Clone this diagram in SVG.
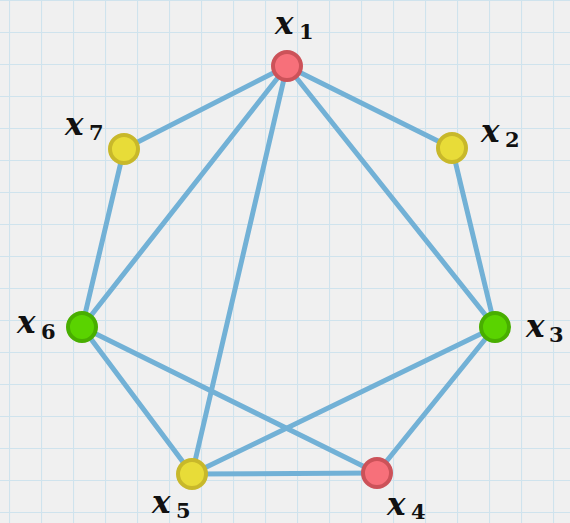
<svg xmlns="http://www.w3.org/2000/svg" width="570" height="523" viewBox="0 0 570 523">
<defs>
<pattern id="grid" x="9" y="0" width="32" height="32" patternUnits="userSpaceOnUse">
<path d="M0 0V32M0 0H32" fill="none" stroke="#cfe3ed" stroke-width="2.2"/>
</pattern>
<style>
.e{stroke:#72b1d6;stroke-width:5;stroke-linecap:round;fill:none}
.n{stroke-width:4}
.red{fill:#f7707a;stroke:#cc5259}
.yel{fill:#e8dc38;stroke:#c8b82a}
.grn{fill:#5ad300;stroke:#48ae00}
.v{font-family:"DejaVu Serif",serif;font-style:italic;font-weight:bold;font-size:31px;fill:#111}
.s{font-family:"DejaVu Serif",serif;font-weight:bold;font-size:21px;fill:#111}
</style>
</defs>
<rect width="570" height="523" fill="#f0f0f0"/>
<rect width="570" height="523" fill="url(#grid)"/>
<g id="connectors">
<line class="e" x1="287" y1="66" x2="124" y2="149"/>
<line class="e" x1="287" y1="66" x2="452" y2="148"/>
<line class="e" x1="287" y1="66" x2="495" y2="327"/>
<line class="e" x1="287" y1="66" x2="82" y2="327"/>
<line class="e" x1="287" y1="66" x2="192" y2="474"/>
<line class="e" x1="124" y1="149" x2="82" y2="327"/>
<line class="e" x1="452" y1="148" x2="495" y2="327"/>
<line class="e" x1="82" y1="327" x2="192" y2="474"/>
<line class="e" x1="82" y1="327" x2="377" y2="473"/>
<line class="e" x1="495" y1="327" x2="192" y2="474"/>
<line class="e" x1="495" y1="327" x2="377" y2="473"/>
<line class="e" x1="192" y1="474" x2="377" y2="473"/>
</g>
<g id="x1"><circle class="n red" cx="287" cy="66" r="14"/><text class="v" x="275" y="34">x</text><text class="s" x="299" y="39">1</text></g>
<g id="x2"><circle class="n yel" cx="452" cy="148" r="14"/><text class="v" x="481" y="142">x</text><text class="s" x="505" y="147">2</text></g>
<g id="x3"><circle class="n grn" cx="495" cy="327" r="14"/><text class="v" x="526" y="337">x</text><text class="s" x="549" y="342">3</text></g>
<g id="x4"><circle class="n red" cx="377" cy="473" r="14"/><text class="v" x="387" y="515">x</text><text class="s" x="411" y="519">4</text></g>
<g id="x5"><circle class="n yel" cx="192" cy="474" r="14"/><text class="v" x="152" y="513">x</text><text class="s" x="176" y="518">5</text></g>
<g id="x6"><circle class="n grn" cx="82" cy="327" r="14"/><text class="v" x="17" y="333">x</text><text class="s" x="41" y="339">6</text></g>
<g id="x7"><circle class="n yel" cx="124" cy="149" r="14"/><text class="v" x="65" y="135">x</text><text class="s" x="89" y="140">7</text></g>
</svg>
